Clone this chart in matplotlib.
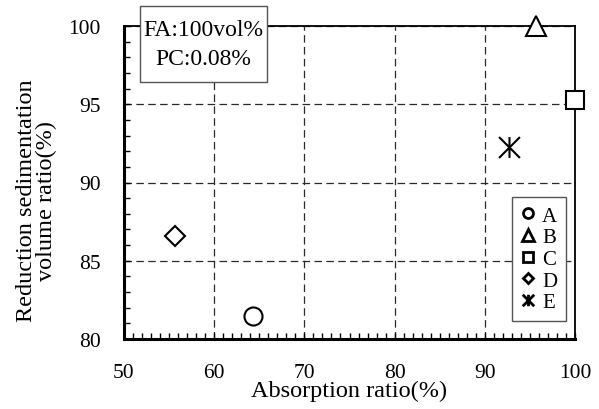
import matplotlib
matplotlib.use("Agg")
import matplotlib.pyplot as plt
from matplotlib.path import Path
from matplotlib.patches import Rectangle

plt.rcParams['font.family'] = ['Liberation Serif', 'DejaVu Serif']

labels = ['A', 'B', 'C', 'D', 'E']
absorption = [64.3, 95.7, 100.0, 55.6, 92.7]
sedimentation = [81.5, 100.0, 95.3, 86.6, 92.3]

# Excel-style star: X with vertical bar
star = Path([(-1, -1), (1, 1), (-1, 1), (1, -1), (0, -1), (0, 1)],
            [Path.MOVETO, Path.LINETO, Path.MOVETO, Path.LINETO, Path.MOVETO, Path.LINETO])
markers = ['o', '^', 's', 'D', star]
msizes = [13, 14.5, 13, 10, 15]

xticks = [50, 60, 70, 80, 90, 100]
yticks = [80, 85, 90, 95, 100]

fig = plt.figure(figsize=(5.99, 4.10), dpi=100)
ax = fig.add_axes([124/599, 1-340/410, 451/599, 313/410])

for lab, x, y, m, ms in zip(labels, absorption, sedimentation, markers, msizes):
    ax.plot([x], [y], linestyle='none', marker=m, markersize=ms,
            markerfacecolor='white', markeredgecolor='black',
            markeredgewidth=1.5, label=lab, clip_on=False, zorder=5)

ax.set_xlim(50, 100)
ax.set_ylim(80, 100)
ax.set_xticks(xticks)
ax.set_yticks(yticks)
ax.set_xticks(range(50, 101, 1), minor=True)
ax.set_yticks(range(80, 101, 1), minor=True)
ax.tick_params(which='both', direction='in', length=4, width=1,
               labelsize=15.5, top=False, right=False)
ax.tick_params(axis='x', pad=17)
ax.tick_params(axis='y', pad=17)

ax.grid(True, which='major', linestyle=(0, (6, 3.5)), color='#2a2a2a', linewidth=0.9)
for s in ['left', 'bottom']:
    ax.spines[s].set_linewidth(2.2)
for s in ['top', 'right']:
    ax.spines[s].set_linewidth(1.3)

ax.set_xlabel('Absorption ratio(%)', fontsize=17.5)
ax.xaxis.set_label_coords(0.5, (340 - 381) / 313)
ax.set_ylabel('Reduction sedimentation\nvolume ratio(%)', fontsize=17.5, linespacing=0.95)
ax.yaxis.set_label_coords((57 - 124) / 451, (340 - 201) / 313)

# annotation box
ax.add_patch(Rectangle(((140 - 124) / 451, (340 - 83) / 313), 127 / 451, 76 / 313,
                       transform=ax.transAxes, facecolor='white', edgecolor='#555555',
                       linewidth=1.0, clip_on=False, zorder=9))
ax.text((203.5 - 124) / 451, 1 - (45 - 27) / 313, 'FA:100vol%\nPC:0.08%',
        transform=ax.transAxes, ha='center', va='center', fontsize=17,
        multialignment='center', linespacing=1.55, zorder=10)

leg = ax.legend(loc='lower right', bbox_to_anchor=((566 - 124) / 451, (340 - 322) / 313),
                borderaxespad=0, fontsize=15,
                markerscale=0.55, handlelength=0.7, handletextpad=0.35,
                labelspacing=0.1, borderpad=0.42, fancybox=False, framealpha=1,
                edgecolor='#555555')
leg.get_frame().set_linewidth(1.0)
for h in leg.legend_handles:
    h.set_markeredgewidth(2.0)

fig.savefig('out.png', dpi=100)
